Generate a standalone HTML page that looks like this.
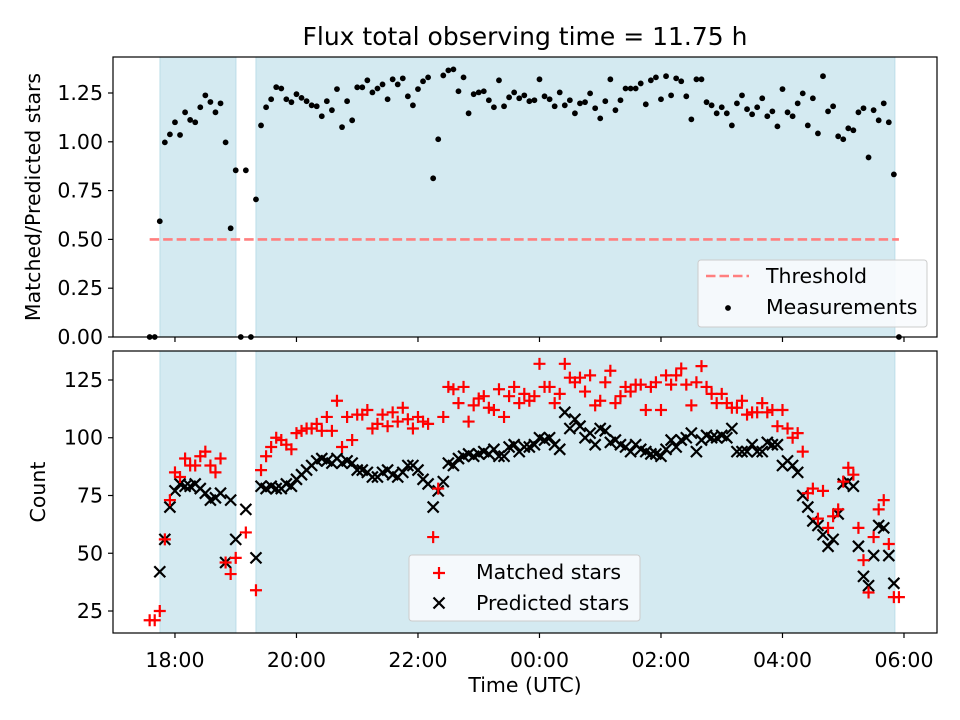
<!DOCTYPE html>
<html><head><meta charset="utf-8">
<style>
html,body{margin:0;padding:0;background:#fff;}
svg{display:block;font-family:"DejaVu Sans","Liberation Sans",sans-serif;}
</style></head>
<body>
<svg id="fig" width="960" height="720" viewBox="0 0 960 720" xmlns="http://www.w3.org/2000/svg">
<rect width="960" height="720" fill="#fff"/>
<text x="525" y="45" font-size="25" text-anchor="middle" fill="#000">Flux total observing time = 11.75 h</text>
<g id="topPanel"></g>
<g id="botPanel"></g>
<text x="0" y="0" transform="translate(40,197) rotate(-90)" font-size="20.5" text-anchor="middle">Matched/Predicted stars</text>
<text x="0" y="0" transform="translate(45,492) rotate(-90)" font-size="20.5" text-anchor="middle">Count</text>
<text x="525" y="692" font-size="20.5" text-anchor="middle">Time (UTC)</text>
</svg>
<script>
// time in minutes relative to 18:00, 5-min cadence starting 17:35
const startMin = -25;
const stepMin = 5;
const ratio = [0,0,0.593,0.997,1.038,1.10,1.035,1.151,1.112,1.10,1.177,1.238,1.204,1.151,1.197,0.997,0.557,0.854,0,0.854,0,0.705,
1.084,1.177,1.218,1.28,1.273,1.218,1.203,1.244,1.225,1.208,1.187,1.182,1.131,1.208,1.162,1.27,1.075,1.208,1.11,1.279,1.279,1.315,1.253,1.273,1.294,1.218,1.32,1.294,1.325,
1.233,1.187,1.27,1.31,1.33,0.813,1.013,1.34,1.366,1.371,1.259,1.33,1.146,1.244,1.253,1.259,1.213,1.177,1.315,1.182,1.228,1.253,1.223,1.238,1.208,1.213,1.32,1.233,1.218,1.182,1.253,1.187,1.213,1.146,1.197,1.203,1.248,1.172,1.12,1.208,1.32,1.162,1.213,1.273,1.273,1.273,1.299,1.192,1.315,1.33,
1.218,1.336,1.238,1.325,1.31,1.233,1.115,1.32,1.32,1.203,1.187,1.146,1.177,1.146,1.084,1.197,1.238,1.167,1.141,1.177,1.223,1.131,1.156,1.079,1.27,1.151,1.131,1.197,1.248,1.084,1.223,1.043,1.336,1.156,1.182,1.028,1.013,1.069,1.059,1.151,1.172,0.92,1.162,1.11,1.197,1.10,0.833,0];
const matched = [21,21,25,56,73,85,83,91,88,88,92,94,88,85,91,46,41,48,null,59,null,34,
86,92,96,100,99,97,95,102,103,104,104,106,103,109,103,116,96,109,99,110,110,112,104,106,110,105,111,107,113,
108,104,109,107,106,57,78,109,122,121,115,122,107,114,117,118,113,112,121,109,118,122,115,119,116,118,132,122,122,115,119,132,126,124,126,120,127,114,116,124,129,115,118,122,120,123,123,112,122,124,
112,127,123,127,130,123,114,124,131,122,119,115,119,115,113,113,116,110,111,111,115,111,112,105,112,104,100,102,94,76,78,65,77,61,66,69,81,87,84,61,47,33,57,69,73,54,31,31];
const predicted = [null,null,42,56,70,77,80,79,79,80,78,76,73,74,76,46,73,56,null,69,null,48,
79,78,79,78,78,80,79,82,84,86,88,90,91,90,89,91,89,90,89,86,86,85,83,83,85,86,84,83,85,
88,88,86,82,80,70,77,81,89,88,91,92,93,92,93,94,93,95,92,92,96,97,94,96,96,97,100,99,100,97,95,111,104,108,105,100,102,97,104,103,98,99,97,96,94,97,95,94,93,93,
92,95,99,96,99,100,102,94,99,101,100,100,101,100,104,94,94,94,97,94,94,98,97,97,88,90,88,85,75,70,64,62,58,53,56,67,80,81,79,53,40,36,49,62,61,49,37,null];
const thresholdValue = 0.5;
const shadedRanges = [[-14.8,60.2],[80,711]];
const xTickMinutes = [0,120,240,360,480,600,720];
const xTickLabels = ["18:00","20:00","22:00","00:00","02:00","04:00","06:00"];
const topYTicks = [0,0.25,0.5,0.75,1.0,1.25];
const topYLabels = ["0.00","0.25","0.50","0.75","1.00","1.25"];
const botYTicks = [25,50,75,100,125];
const botYLabels = ["25","50","75","100","125"];

const NS="http://www.w3.org/2000/svg";
const L=113,R=937;
const xMin=-61.2,xMax=752.6;
const X=m=>L+(m-xMin)/(xMax-xMin)*(R-L);
const topT=57,topB=337,topMin=0,topMax=1.4344;
const YT=v=>topB-(v-topMin)/(topMax-topMin)*(topB-topT);
const botT=351,botB=633,botMin=15.48,botMax=137.55;
const YB=v=>botB-(v-botMin)/(botMax-botMin)*(botB-botT);
function mk(parent,tag,attrs){const e=document.createElementNS(NS,tag);for(const k in attrs)e.setAttribute(k,attrs[k]);parent.appendChild(e);return e;}
const tm=i=>startMin+i*stepMin;

function panel(g,T,B,Y,yt,yl,showX,nm){
  mk(g,'rect',{x:L,y:T,width:R-L,height:B-T,fill:'#fff'});
  shadedRanges.forEach(r=>{
    const s=mk(g,'rect',{x:X(r[0]),y:T,width:X(r[1])-X(r[0]),height:B-T,fill:'#d4eaf1',stroke:'#bcdde8','stroke-width':1});
    
    
  });
  xTickMinutes.forEach((m,k)=>{
    mk(g,'line',{x1:X(m),x2:X(m),y1:B,y2:B+5,stroke:'#000','stroke-width':1.2});
    if(showX){const t=mk(g,'text',{x:X(m),y:B+34,'font-size':20.5,'text-anchor':'middle'});t.textContent=xTickLabels[k];
      
      }
  });
  yt.forEach((v,k)=>{
    mk(g,'line',{x1:L-5,x2:L,y1:Y(v),y2:Y(v),stroke:'#000','stroke-width':1.2});
    const t=mk(g,'text',{x:L-10,y:Y(v)+7,'font-size':20.5,'text-anchor':'end'});t.textContent=yl[k];
    
    
  });
}
const topG=document.getElementById('topPanel'), botG=document.getElementById('botPanel');
panel(topG,topT,topB,YT,topYTicks,topYLabels,false,'top');
panel(botG,botT,botB,YB,botYTicks,botYLabels,true,'bottom');

const th=mk(topG,'line',{x1:X(tm(0)),x2:X(tm(ratio.length-1)),y1:YT(thresholdValue),y2:YT(thresholdValue),stroke:'#ff7f7f','stroke-width':2.6,'stroke-dasharray':'9.5,4'});


ratio.forEach((v,i)=>{
  const c=mk(topG,'circle',{cx:X(tm(i)),cy:YT(v),r:2.9,fill:'#000'});
  
  
});
predicted.forEach((v,i)=>{
  if(v===null)return;
  const x=X(tm(i)),y=YB(v),s=5.5;
  const p=mk(botG,'path',{d:`M${x-s},${y-s}L${x+s},${y+s}M${x-s},${y+s}L${x+s},${y-s}`,stroke:'#000','stroke-width':2.2,fill:'none'});
  
  
});
matched.forEach((v,i)=>{
  if(v===null)return;
  const x=X(tm(i)),y=YB(v),s=6;
  const p=mk(botG,'path',{d:`M${x-s},${y}L${x+s},${y}M${x},${y-s}L${x},${y+s}`,stroke:'#f00','stroke-width':2.2,fill:'none'});
  
  
});
[[topG,topT,topB],[botG,botT,botB]].forEach(a=>mk(a[0],'rect',{x:L,y:a[1],width:R-L,height:a[2]-a[1],fill:'none',stroke:'#000','stroke-width':1.2}));

const lg1=mk(topG,'g',{});


mk(lg1,'rect',{x:698,y:260,width:229,height:67,rx:3,fill:'#f8fbfd','fill-opacity':0.9,stroke:'#ccc'});
mk(lg1,'line',{x1:706,x2:749,y1:276,y2:276,stroke:'#ff7f7f','stroke-width':2.6,'stroke-dasharray':'9.5,4'});
let t=mk(lg1,'text',{x:766,y:283,'font-size':20.5});t.textContent='Threshold';
mk(lg1,'circle',{cx:728,cy:308,r:2.9,fill:'#000'});
t=mk(lg1,'text',{x:766,y:314,'font-size':20.5});t.textContent='Measurements';

const lg2=mk(botG,'g',{});


mk(lg2,'rect',{x:409,y:555,width:231,height:66,rx:3,fill:'#f8fbfd','fill-opacity':0.9,stroke:'#ccc'});
mk(lg2,'path',{d:'M433,573L445,573M439,567L439,579',stroke:'#f00','stroke-width':2.2});
t=mk(lg2,'text',{x:476,y:579,'font-size':20.5});t.textContent='Matched stars';
mk(lg2,'path',{d:'M433.5,597.5L444.5,608.5M433.5,608.5L444.5,597.5',stroke:'#000','stroke-width':2.2});
t=mk(lg2,'text',{x:476,y:610,'font-size':20.5});t.textContent='Predicted stars';
</script>
</body></html>
